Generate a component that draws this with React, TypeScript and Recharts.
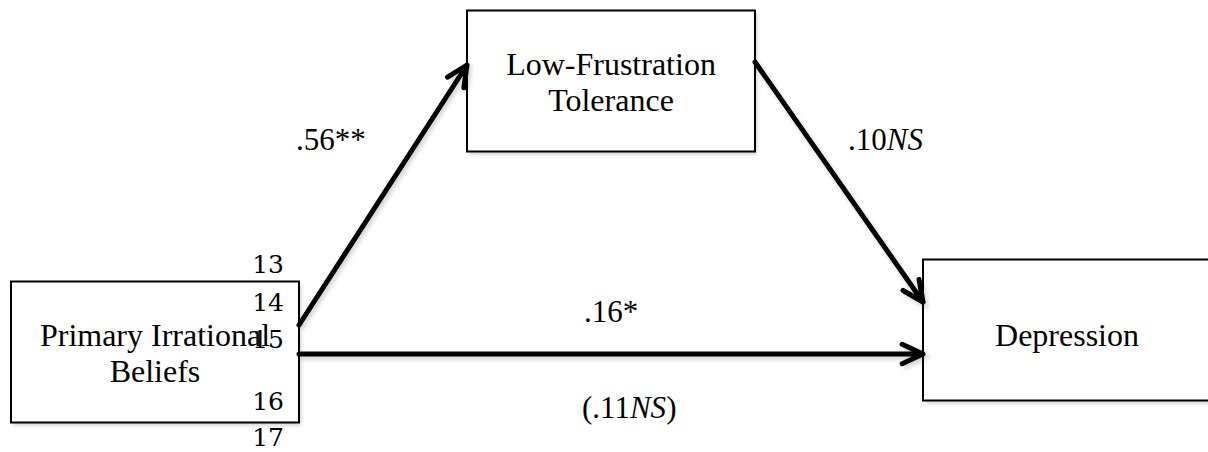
import {
  ComposedChart,
  XAxis,
  YAxis,
  ReferenceArea,
  ReferenceLine,
  Scatter,
} from 'recharts';

// mediation model: the three variables and where they sit (layout units = px)
const nodeLines = [['Primary Irrational', 'Beliefs'], ['Low-Frustration', 'Tolerance'], ['Depression']];
const nodeCenterX = [155, 611, 1067];
const nodeCenterY = [352, 81, 330];

// paths between variables
const edgeFrom = [0, 1, 0];
const edgeTo = [1, 2, 2];
const edgeStartY = [325, 62, 354];
const edgeEndY = [65, 302, 354];

// path coefficients
const coefValues = ['.56', '.10', '.16', '.11'];
const coefSig = ['**', 'NS', '*', 'NS'];
const coefParen = [false, false, false, true];
const coefX = [296, 848, 584, 582];
const coefY = [150, 150, 322, 418];

// stray line numbers from the source document
const lineNumbers = ['13', '14', '15', '16', '17'];
const lineNumberX = 284;
const lineNumberY = [273, 311, 348, 410, 446];

const BOX_W = 288;
const BOX_H = 141;
const SERIF = "'Liberation Serif', 'Times New Roman', serif";
const NUM_FONT = "'DejaVu Serif', serif";

const coefData = coefValues.map((v, i) => ({
  x: coefX[i],
  y: coefY[i],
  value: v,
  sig: coefSig[i],
  paren: coefParen[i],
}));

const numberData = lineNumbers.map((n, i) => ({ x: lineNumberX, y: lineNumberY[i], value: n }));

function NodeBox(props: any) {
  const { x, y, width, height, lines } = props;
  const cx = x + width / 2;
  const cy = y + height / 2;
  const first = lines.length === 1 ? cy + 16 : cy - 6;
  return (
    <g>
      <rect
        x={x + 2}
        y={y + 3}
        width={width}
        height={height}
        fill="#000"
        opacity={0.18}
        style={{ filter: 'blur(2px)' }}
      />
      <rect x={x} y={y} width={width} height={height} fill="#fff" stroke="#000" strokeWidth={2} />
      {lines.map((t: string, i: number) => (
        <text
          key={i}
          x={cx}
          y={first + i * 36}
          textAnchor="middle"
          fill="#000"
          style={{ fontFamily: SERIF, fontSize: 32 }}
        >
          {t}
        </text>
      ))}
    </g>
  );
}

function Arrow(props: any) {
  const { x1, y1, x2, y2 } = props;
  const ang = Math.atan2(y2 - y1, x2 - x1);
  const len = 23;
  const spread = (25 * Math.PI) / 180;
  const ax = x2 - len * Math.cos(ang - spread);
  const ay = y2 - len * Math.sin(ang - spread);
  const bx = x2 - len * Math.cos(ang + spread);
  const by = y2 - len * Math.sin(ang + spread);
  const d = `M${x1},${y1} L${x2},${y2} M${ax},${ay} L${x2},${y2} L${bx},${by}`;
  return (
    <g>
      <path
        d={d}
        transform="translate(2,3)"
        fill="none"
        stroke="#000"
        strokeWidth={5}
        opacity={0.18}
        style={{ filter: 'blur(2px)' }}
      />
      <path d={d} fill="none" stroke="#000" strokeWidth={5} strokeLinecap="round" strokeLinejoin="round" />
    </g>
  );
}

function CoefLabel(props: any) {
  const { cx, cy, payload } = props;
  return (
    <text x={cx} y={cy} fill="#000" style={{ fontFamily: SERIF, fontSize: 31 }}>
      {payload.paren ? '(' : ''}
      {payload.value}
      {payload.sig === 'NS' ? <tspan style={{ fontStyle: 'italic' }}>NS</tspan> : payload.sig}
      {payload.paren ? ')' : ''}
    </text>
  );
}

function LineNumber(props: any) {
  const { cx, cy, payload } = props;
  return (
    <text x={cx} y={cy} textAnchor="end" fill="#000" style={{ fontFamily: NUM_FONT, fontSize: 25 }}>
      {payload.value}
    </text>
  );
}

export default function App() {
  return (
    <div style={{ position: 'fixed', left: 0, top: 0, width: 1208, height: 452, background: '#fff' }}>
      <ComposedChart width={1208} height={452} margin={{ top: 0, right: 0, bottom: 0, left: 0 }}>
        <XAxis type="number" dataKey="x" domain={[0, 1208]} hide allowDataOverflow />
        <YAxis type="number" dataKey="y" domain={[0, 452]} reversed hide allowDataOverflow />
        {edgeFrom.map((f, i) => (
          <ReferenceLine
            key={`e${i}`}
            segment={[
              { x: nodeCenterX[f] + BOX_W / 2, y: edgeStartY[i] },
              { x: nodeCenterX[edgeTo[i]] - BOX_W / 2, y: edgeEndY[i] },
            ]}
            ifOverflow="visible"
            shape={(p: any) => <Arrow {...p} />}
          />
        ))}
        {nodeLines.map((lines, i) => (
          <ReferenceArea
            key={`n${i}`}
            x1={nodeCenterX[i] - BOX_W / 2}
            x2={nodeCenterX[i] + BOX_W / 2}
            y1={nodeCenterY[i] - BOX_H / 2}
            y2={nodeCenterY[i] + BOX_H / 2}
            ifOverflow="visible"
            shape={(p: any) => <NodeBox {...p} lines={lines} />}
          />
        ))}
        <Scatter data={coefData} isAnimationActive={false} shape={(p: any) => <CoefLabel {...p} />} />
        <Scatter data={numberData} isAnimationActive={false} shape={(p: any) => <LineNumber {...p} />} />
      </ComposedChart>
    </div>
  );
}
